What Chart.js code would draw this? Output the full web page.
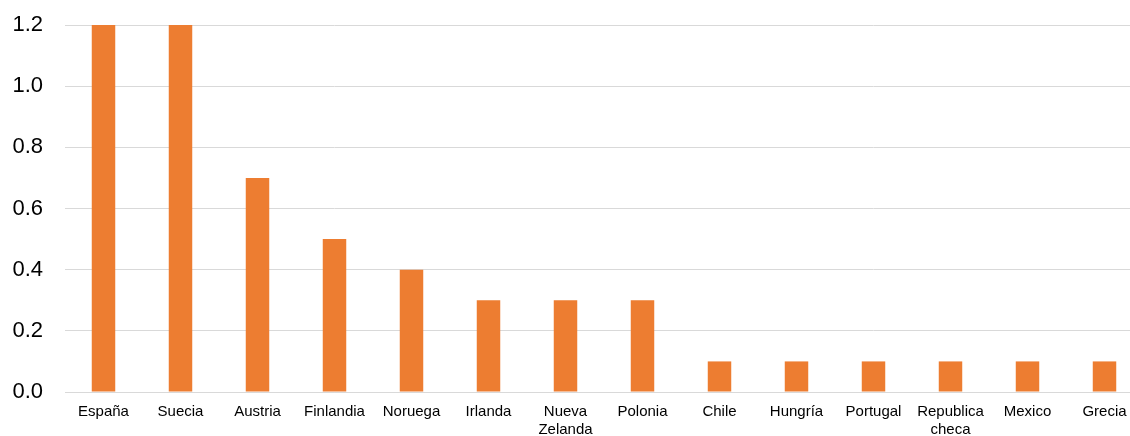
<!DOCTYPE html>
<html>
<head>
<meta charset="utf-8">
<script src="https://cdn.jsdelivr.net/npm/chart.js"></script>
<style>
  html, body { margin: 0; padding: 0; background: #fff; overflow: hidden; }
  #wrap { width: 1130px; height: 436px; overflow: hidden; }
</style>
</head>
<body>
<div id="wrap"><canvas id="barChart" width="1143" height="436"></canvas></div>
<script>
  // countries and values
  const paises = ['España', 'Suecia', 'Austria', 'Finlandia', 'Noruega', 'Irlanda',
    ['Nueva', 'Zelanda'], 'Polonia', 'Chile', 'Hungría', 'Portugal',
    ['Republica', 'checa'], 'Mexico', 'Grecia'];
  const valores = [1.2, 1.2, 0.7, 0.5, 0.4, 0.3, 0.3, 0.3, 0.1, 0.1, 0.1, 0.1, 0.1, 0.1];
  const yTicks = [0, 0.2, 0.4, 0.6, 0.8, 1.0, 1.2];

  const color = '#ED7D31';
  const gridColor = '#D9D9D9';

  const ctx = document.getElementById('barChart').getContext('2d');
  const chart = new Chart(ctx, {
    type: 'bar',
    data: {
      labels: paises,
      datasets: [{
        data: valores,
        backgroundColor: color,
        borderWidth: 0,
        barPercentage: 0.305,
        categoryPercentage: 1.0
      }]
    },
    options: {
      responsive: false,
      animation: false,
      layout: { padding: { top: 25, left: 0, right: 0, bottom: 0 } },
      plugins: {
        legend: { display: false },
        tooltip: { enabled: false }
      },
      scales: {
        x: {
          grid: { display: false, drawTicks: false },
          border: { display: true, color: gridColor, width: 1 },
          ticks: {
            color: '#000',
            padding: 11,
            maxRotation: 0,
            autoSkip: false,
            font: { family: 'Liberation Sans, Arial, sans-serif', size: 15, lineHeight: 1.2 }
          },
          afterFit: (scale) => { scale.height = 44; }
        },
        y: {
          min: 0,
          max: 1.2,
          afterBuildTicks: (scale) => { scale.ticks = yTicks.map(v => ({ value: v })); },
          grid: { color: gridColor, lineWidth: 1, drawTicks: false },
          border: { display: false },
          ticks: {
            color: '#000',
            padding: 22,
            font: { family: 'Liberation Sans, Arial, sans-serif', size: 22 },
            callback: (v) => Number(v).toFixed(1)
          },
          afterFit: (scale) => {
            scale.width = 65;
            scale.paddingTop = 0;
            scale.paddingBottom = 0;
          }
        }
      }
    }
  });
</script>
</body>
</html>
